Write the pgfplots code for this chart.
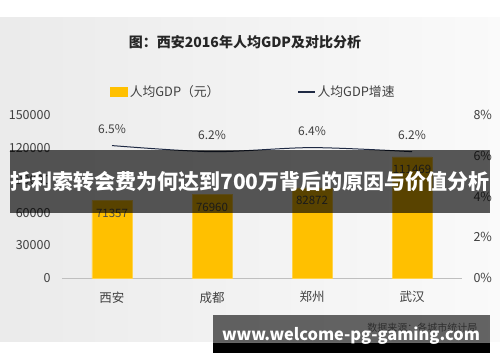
\documentclass[border=0pt]{standalone}
\usepackage{pgfplots}
\pgfplotsset{compat=1.18}
\usepackage{fontspec}
\setmainfont{Noto Sans CJK SC}
\definecolor{barcol}{RGB}{255,192,0}
\definecolor{linecol}{RGB}{31,42,68}
\definecolor{txt}{RGB}{64,64,64}
\begin{document}
\begin{tikzpicture}
\begin{scope}[x=1pt,y=1pt,shift={(-62pt,-84pt)}]
\fill[white] (0,0) rectangle (500,362);
\shade[left color=black!8, right color=black!2] (0,21) rectangle (500,344);
\node[font=\bfseries\fontsize{14}{16}\selectfont, text=black!85] at (245,320) {图：西安2016年人均GDP及对比分析};
\end{scope}
\begin{axis}[name=ax, scale only axis,
  width=400pt, height=163pt,
  xmin=-0.5, xmax=3.5, ymin=0, ymax=150000,
  axis line style={draw=none},
  xtick={0,1,2,3}, xticklabels={西安,成都,郑州,武汉},
  xtick pos=bottom, ytick pos=left, major tick length=0pt,
  ytick={0,30000,60000,90000,120000,150000},
  scaled y ticks=false,
  /pgf/number format/.cd, fixed, precision=0, 1000 sep={}, assume math mode=true,
  /pgfplots/.cd,
  yticklabel style={font=\fontsize{12.5}{14}\selectfont, text=txt, xshift=-8pt},
  xticklabel style={font=\fontsize{12.5}{14}\selectfont, text=txt, yshift=-10pt},
  legend columns=2,
  legend style={at={(0.12,1.141)}, anchor=west, draw=none, fill=none, inner sep=0pt,
    font=\fontsize{12.8}{14}\selectfont, text=txt,
    /tikz/every even column/.append style={column sep=76pt}},
  ]
\draw[black!25, line width=0.8pt] (axis cs:-0.5,0) -- (axis cs:3.5,0);
\addplot[ybar, bar width=40pt, fill=barcol, draw=barcol!70!white, line width=0.6pt,
  nodes near coords,
  every node near coord/.style={anchor=north, yshift=-5pt, font=\fontsize{11.5}{13}\selectfont, text=black!70},
  legend image code/.code={\fill[barcol] (0pt,-4.5pt) rectangle (17pt,4.5pt);}]
  coordinates {(0,71357) (1,76960) (2,82872) (3,111469)};
\addlegendentry{人均GDP（元）}
\addlegendimage{legend image code/.code={\draw[linecol, line width=1.1pt] (0pt,0pt) -- (17pt,0pt);}}
\addlegendentry{人均GDP增速}
\end{axis}
\begin{axis}[scale only axis,
  width=400pt, height=163pt,
  xmin=-0.5, xmax=3.5, ymin=0, ymax=8,
  axis line style={draw=none},
  xtick=\empty, ytick pos=right, major tick length=0pt,
  ytick={0,2,4,6,8},
  /pgf/number format/assume math mode=true,
  yticklabel={\pgfmathprintnumber{\tick}\%},
  yticklabel style={font=\fontsize{12.5}{14}\selectfont, text=txt, xshift=8pt},
  ]
\addplot[smooth, linecol, line width=1pt, mark=none,
  nodes near coords={\pgfmathprintnumber[fixed,precision=1,fixed zerofill]{\pgfplotspointmeta}\%},
  every node near coord/.style={anchor=south, yshift=8pt, font=\fontsize{12}{14}\selectfont, text=txt}]
  coordinates {(0,6.5) (1,6.2) (2,6.4) (3,6.2)};
\end{axis}
\begin{scope}[x=1pt,y=1pt,shift={(-62pt,-84pt)}]
\node[anchor=east, font=\fontsize{10}{12}\selectfont, text=black!55] at (481,34) {数据来源：各城市统计局};
\fill[black, opacity=0.65] (10,149) rectangle (490,212);
\node[text=white, font=\bfseries\fontsize{21}{24}\selectfont] at (250,180.5) {托利索转会费为何达到700万背后的原因与价值分析};
\fill[black, opacity=0.6] (213,19) rectangle (490,47);
\fill[black] (213,9) rectangle (490,19);
\node[anchor=base, text=white, font=\bfseries\fontsize{16.4}{20}\selectfont] at (351,22) {www.welcome-pg-gaming.com};
\end{scope}
\end{tikzpicture}
\end{document}
